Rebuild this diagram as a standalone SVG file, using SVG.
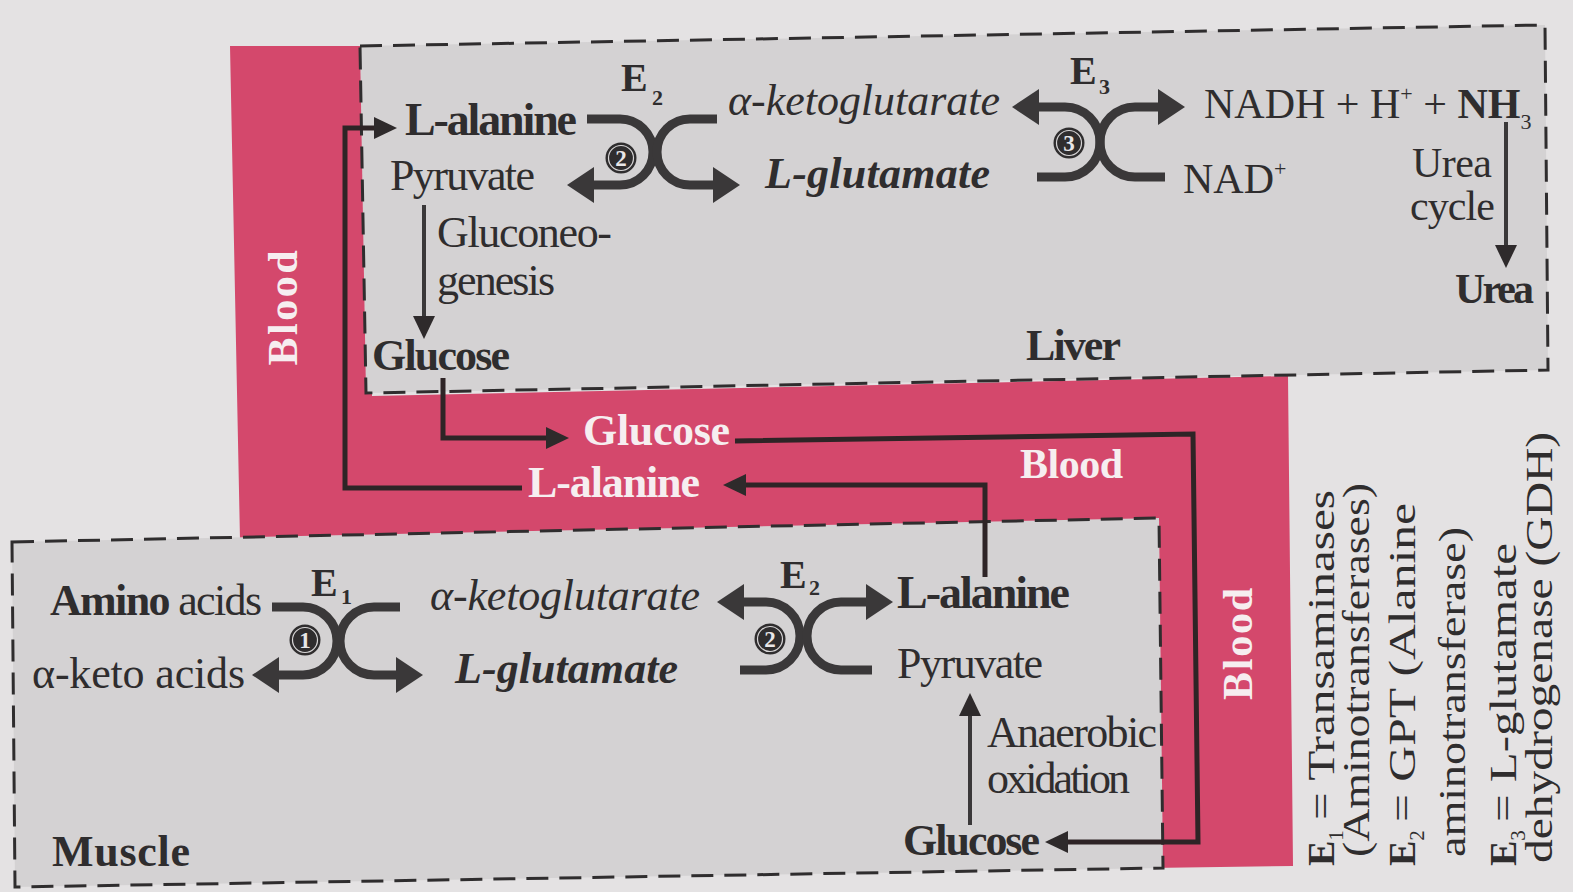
<svg xmlns="http://www.w3.org/2000/svg" width="1573" height="892" viewBox="0 0 1573 892">
<defs>
<style>
.t{font-family:"Liberation Serif","Times New Roman",serif;fill:#2f2d2e}
.b{font-weight:bold}
.i{font-style:italic}
.w{fill:#f6eef0;font-weight:bold}
.box{fill:#d4d2d3;stroke:#2f2d2e;stroke-width:3;stroke-dasharray:22 11}
.x{fill:none;stroke:#3a3839;stroke-width:9}
.c{fill:none;stroke:#2e2426;stroke-width:5}
.a{fill:none;stroke:#3a3839;stroke-width:4}
.num circle{fill:#2f2d2e}
.num .ring{fill:none;stroke:#d8d6d7;stroke-width:1.2}
.num text{font-family:"Liberation Serif",serif;font-weight:bold;font-size:23px;fill:#e8e6e7;text-anchor:middle}
.lg{font-size:38px}
</style>
<marker id="big" markerUnits="userSpaceOnUse" markerWidth="30" markerHeight="40" refX="0" refY="18" orient="auto" viewBox="0 0 30 36" overflow="visible">
<path d="M0,0 L27,18 L0,36 z" fill="#3a3839"/>
</marker>
<marker id="sm" markerUnits="userSpaceOnUse" markerWidth="24" markerHeight="24" refX="0" refY="11" orient="auto" viewBox="0 0 24 22" overflow="visible">
<path d="M0,0 L23,11 L0,22 z" fill="#2e2a2b"/>
</marker>
</defs>
<rect width="1573" height="892" fill="#e4e2e3"/>
<g id="blood">
<polygon points="230,46 372,46 372,396 1288,376 1293,866 1150,868 1150,530 240,540" fill="#d4486c"/>
<text class="t w" font-size="42" textLength="115" text-anchor="middle" transform="translate(297,308) rotate(-90)">Blood</text>
<text class="t w" font-size="42" x="1020" y="478" textLength="103">Blood</text>
<text class="t w" font-size="42" textLength="112" text-anchor="middle" transform="translate(1252,644) rotate(-90)">Blood</text>
<text class="t w" font-size="44" x="583" y="445" textLength="147">Glucose</text>
<text class="t w" font-size="44" x="528" y="497" textLength="172">L-alanine</text>
</g>
<g id="liver">
<polygon class="box" points="360,46 1545,25 1548,370 366,393"/>
<text class="t b" font-size="46" x="405" y="135" textLength="172">L-alanine</text>
<text class="t" font-size="44" x="390" y="190" textLength="145">Pyruvate</text>
<text class="t" font-size="44" x="437" y="247" textLength="175">Gluconeo-</text>
<text class="t" font-size="44" x="437" y="295" textLength="118">genesis</text>
<text class="t b" font-size="44" x="372" y="370" textLength="138">Glucose</text>
<text class="t i" font-size="44" x="728" y="115" textLength="272">α-ketoglutarate</text>
<text class="t b i" font-size="44" x="765" y="188" textLength="225">L-glutamate</text>
<text class="t b" font-size="40" x="621" y="91">E</text>
<text class="t b" font-size="22" x="652" y="105">2</text>
<text class="t b" font-size="40" x="1070" y="84">E</text>
<text class="t b" font-size="22" x="1099" y="94">3</text>
<text class="t" font-size="42" x="1204" y="118">NADH + H<tspan font-size="22" dy="-17">+</tspan><tspan dy="17"> + </tspan><tspan font-weight="bold">NH</tspan><tspan font-size="22" dy="11">3</tspan></text>
<text class="t" font-size="42" x="1183" y="193">NAD<tspan font-size="22" dy="-17">+</tspan></text>
<text class="t" font-size="42" x="1412" y="177" textLength="80">Urea</text>
<text class="t" font-size="42" x="1410" y="220" textLength="85">cycle</text>
<text class="t b" font-size="42" x="1455" y="303" textLength="79">Urea</text>
<text class="t b" font-size="44" x="1026" y="360" textLength="95">Liver</text>
</g>
<g id="muscle">
<polygon class="box" points="12,542 1159,518 1163,868 15,887"/>
<text class="t" font-size="44" x="50" y="615" textLength="212"><tspan font-weight="bold">Amino</tspan> acids</text>
<text class="t" font-size="44" x="32" y="688" textLength="213">α-keto acids</text>
<text class="t i" font-size="44" x="430" y="610" textLength="270">α-ketoglutarate</text>
<text class="t b i" font-size="44" x="455" y="683" textLength="223">L-glutamate</text>
<text class="t b" font-size="40" x="311" y="596">E</text>
<text class="t b" font-size="22" x="341" y="604">1</text>
<text class="t b" font-size="40" x="780" y="588">E</text>
<text class="t b" font-size="22" x="809" y="595">2</text>
<text class="t b" font-size="46" x="897" y="608" textLength="173">L-alanine</text>
<text class="t" font-size="44" x="897" y="678" textLength="146">Pyruvate</text>
<text class="t" font-size="44" x="987" y="747" textLength="170">Anaerobic</text>
<text class="t" font-size="44" x="987" y="793" textLength="143">oxidation</text>
<text class="t b" font-size="44" x="903" y="855" textLength="137">Glucose</text>
<text class="t b" font-size="44" x="52" y="866" textLength="138">Muscle</text>
</g>
<g id="enzymes">
<path class="x" d="M587,119 H620 A33 33 0 0 1 620,185 H594" marker-end="url(#big)"/>
<path class="x" d="M717,119 H690 A33 33 0 0 0 690,185 H713" marker-end="url(#big)"/>
<g class="num"><circle cx="621" cy="158" r="15.5"/><circle class="ring" cx="621" cy="158" r="12.5"/><text x="621" y="166">2</text></g>
<path class="x" d="M1037,177 H1065 A35 35 0 0 0 1065,107 H1039" marker-end="url(#big)"/>
<path class="x" d="M1165,177 H1135 A35 35 0 0 1 1135,107 H1158" marker-end="url(#big)"/>
<g class="num"><circle cx="1069" cy="143" r="15.5"/><circle class="ring" cx="1069" cy="143" r="12.5"/><text x="1069" y="151">3</text></g>
<path class="x" d="M272,607 H303 A34 34 0 0 1 303,675 H279" marker-end="url(#big)"/>
<path class="x" d="M400,607 H374 A34 34 0 0 0 374,675 H396" marker-end="url(#big)"/>
<g class="num"><circle cx="305" cy="640" r="15.5"/><circle class="ring" cx="305" cy="640" r="12.5"/><text x="305" y="648">1</text></g>
<path class="x" d="M740,670 H766 A34 34 0 0 0 766,602 H744" marker-end="url(#big)"/>
<path class="x" d="M872,670 H841 A34 34 0 0 1 841,602 H866" marker-end="url(#big)"/>
<g class="num"><circle cx="770" cy="639" r="15.5"/><circle class="ring" cx="770" cy="639" r="12.5"/><text x="770" y="647">2</text></g>
</g>
<g id="connectors">
<path class="c" d="M522,488 H345 V128 H374" marker-end="url(#sm)"/>
<path class="c" d="M443,378 V438 H546" marker-end="url(#sm)"/>
<path class="c" d="M735,441 L1193,434 L1198,842 H1068" marker-end="url(#sm)"/>
<path class="c" d="M985,577 V485 H746" marker-end="url(#sm)"/>
<path class="a" d="M424,205 V316" marker-end="url(#sm)"/>
<path class="a" d="M1506,122 V245" marker-end="url(#sm)"/>
<path class="a" d="M970,825 V716" marker-end="url(#sm)"/>
</g>
<g id="legend">
<text class="t lg" transform="translate(1334,866) rotate(-90)"><tspan font-weight="bold">E</tspan><tspan font-size="21" dy="9">1</tspan></text>
<text class="t lg" textLength="330" lengthAdjust="spacingAndGlyphs" transform="translate(1334,820) rotate(-90)">= Transaminases</text>
<text class="t lg" textLength="374" lengthAdjust="spacingAndGlyphs" transform="translate(1369,857) rotate(-90)">(Aminotransferases)</text>
<text class="t lg" transform="translate(1415,866) rotate(-90)"><tspan font-weight="bold">E</tspan><tspan font-size="21" dy="9">2</tspan></text>
<text class="t lg" textLength="319" lengthAdjust="spacingAndGlyphs" transform="translate(1415,822) rotate(-90)">= GPT (Alanine</text>
<text class="t lg" textLength="330" lengthAdjust="spacingAndGlyphs" transform="translate(1465,857) rotate(-90)">aminotransferase)</text>
<text class="t lg" transform="translate(1516,866) rotate(-90)"><tspan font-weight="bold">E</tspan><tspan font-size="21" dy="9">3</tspan></text>
<text class="t lg" textLength="279" lengthAdjust="spacingAndGlyphs" transform="translate(1516,822) rotate(-90)">= L-glutamate</text>
<text class="t lg" textLength="431" lengthAdjust="spacingAndGlyphs" transform="translate(1552,863) rotate(-90)">dehydrogenase (GDH)</text>
</g>
</svg>
